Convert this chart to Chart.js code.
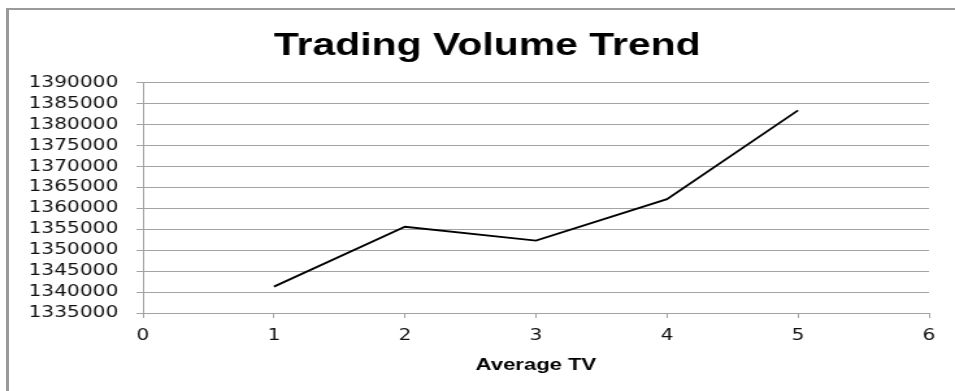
<!DOCTYPE html>
<html>
<head>
<meta charset="utf-8">
<script src="https://cdn.jsdelivr.net/npm/chart.js@4/dist/chart.umd.min.js"></script>
<style>
  html, body { margin: 0; padding: 0; background: #fff; overflow: hidden; }
  #frame {
    position: absolute; left: 6px; top: 8px; right: 0; bottom: 0;
    border-top: 2px solid #9a9a9a; border-left: 3px solid #9a9a9a;
  }
  /* the reference picture is stretched sideways, so the chart is too */
  #wrap {
    position: absolute; left: 0; top: 0; width: 750px; height: 391px;
    transform: scaleX(1.2993); transform-origin: 0 0;
  }
</style>
</head>
<body>
<div id="frame"></div>
<div id="wrap"><canvas id="tvChart"></canvas></div>
<script>
// data
var tvPeriods = [1, 2, 3, 4, 5];
var tvValues = [1341300, 1355600, 1352300, 1362200, 1383400];
// axes
var xTicks = [0, 1, 2, 3, 4, 5, 6];
var yTicks = [1335000, 1340000, 1345000, 1350000, 1355000, 1360000,
              1365000, 1370000, 1375000, 1380000, 1385000, 1390000];

var gridGrey = '#a3a3a3';
var tickFont = { family: 'DejaVu Sans', size: 15.5 };

document.addEventListener('DOMContentLoaded', function() {
    var ctx = document.getElementById('tvChart').getContext('2d');

    var points = tvPeriods.map(function(p, i) {
        return { x: p, y: tvValues[i] };
    });

    new Chart(ctx, {
        type: 'line',
        data: {
            datasets: [{
                label: 'Average TV',
                data: points,
                borderColor: '#000',
                borderWidth: 1.8,
                pointRadius: 0,
                tension: 0,
                fill: false
            }]
        },
        options: {
            responsive: true,
            maintainAspectRatio: false,
            animation: false,
            layout: { padding: 0 },
            plugins: {
                legend: { display: false },
                tooltip: { enabled: false },
                title: {
                    display: true,
                    text: 'Trading Volume Trend',
                    color: '#000',
                    font: { family: 'Liberation Sans', size: 31.5, weight: 'bold' },
                    padding: { top: 27, bottom: 18 }
                }
            },
            scales: {
                x: {
                    type: 'linear',
                    min: xTicks[0],
                    max: xTicks[xTicks.length - 1],
                    afterBuildTicks: function(scale) {
                        scale.ticks = xTicks.map(function(v) { return { value: v }; });
                    },
                    ticks: { color: '#111', font: tickFont, padding: 9, autoSkip: false },
                    grid: { drawOnChartArea: false, drawTicks: true, tickLength: 5, color: gridGrey },
                    border: { color: gridGrey, width: 1 },
                    title: {
                        display: true,
                        text: 'Average TV',
                        color: '#000',
                        font: { family: 'Liberation Sans', size: 17, weight: 'bold' },
                        padding: { top: 1, bottom: 15 }
                    }
                },
                y: {
                    min: yTicks[0],
                    max: yTicks[yTicks.length - 1],
                    afterBuildTicks: function(scale) {
                        scale.ticks = yTicks.map(function(v) { return { value: v }; });
                    },
                    afterFit: function(scale) { scale.width = 110; },
                    ticks: {
                        color: '#111',
                        font: tickFont,
                        padding: 14,
                        autoSkip: false,
                        callback: function(v) { return String(v); }
                    },
                    grid: { color: gridGrey, lineWidth: 1, tickLength: 5 },
                    border: { color: gridGrey, width: 1 }
                },
                // empty right-hand margin, keeps the plot end where the reference has it
                yRight: {
                    position: 'right',
                    min: yTicks[0],
                    max: yTicks[yTicks.length - 1],
                    afterFit: function(scale) { scale.width = 35; },
                    ticks: { display: false },
                    grid: { display: false },
                    border: { display: false }
                }
            }
        }
    });
});
</script>
</body>
</html>
